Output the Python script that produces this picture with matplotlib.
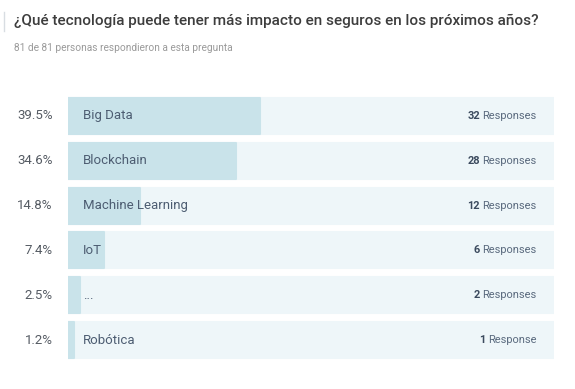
import matplotlib.pyplot as plt

# Datos de la encuesta
categorias = ["Big Data", "Blockchain", "Machine Learning", "IoT", "...", "Robótica"]
porcentajes = [39.5, 34.6, 14.8, 7.4, 2.5, 1.2]
respuestas = [32, 28, 12, 6, 2, 1]

titulo = "¿Qué tecnología puede tener más impacto en seguros en los próximos años?"
subtitulo = "81 de 81 personas respondieron a esta pregunta"

W, H = 575, 389
plt.rcParams['font.family'] = ['Roboto', 'DejaVu Sans']

fig = plt.figure(figsize=(W / 100, H / 100), dpi=100)
fig.patch.set_facecolor("white")

# Zona de las barras (en pixeles de la figura)
izq, der = 68, 554
arriba, abajo = 93.5, 362.5
ax = fig.add_axes([izq / W, 1 - abajo / H, (der - izq) / W, (abajo - arriba) / H])

y = range(len(categorias))
ax.barh(y, [100] * len(categorias), height=0.8, color="#eef6f9",
        edgecolor="#eef6f9", linewidth=1.5, joinstyle="round")
ax.barh(y, porcentajes, height=0.8, color="#c9e3ea",
        edgecolor="#c9e3ea", linewidth=1.5, joinstyle="round")

ax.set_xlim(0, 100)
ax.set_ylim(len(categorias) - 0.5, -0.5)
ax.axis("off")

# Porcentajes a la izquierda, nombres dentro de la barra
for i, (cat, pct) in enumerate(zip(categorias, porcentajes)):
    ax.text(-3.1, i, f"{pct:.1f}%", ha="right", va="center",
            fontsize=9.5, color="#555b63")
    ax.text(3.1, i, cat, ha="left", va="center", fontsize=9.5, color="#4d5d72")

# "N Responses" a la derecha, con el numero en negrita
fig.canvas.draw()
renderer = fig.canvas.get_renderer()
for i, n in enumerate(respuestas):
    palabra = "Response" if n == 1 else "Responses"
    t = ax.text(96.4, i, palabra, ha="right", va="center", fontsize=7.9,
                color="#5a6a7e")
    bb = t.get_window_extent(renderer)
    x_data = ax.transData.inverted().transform((bb.x0 - 2.5, 0))[0]
    ax.text(x_data, i, str(n), ha="right", va="center", fontsize=7.9,
            color="#3b4a5e", fontweight="bold")

# Titulo y subtitulo
fig.text(14 / W, 1 - 21 / H, titulo, ha="left", va="center",
         fontsize=11.0, color="#3d3d3d", fontweight="medium")
fig.text(14 / W, 1 - 48 / H, subtitulo, ha="left", va="center",
         fontsize=7.3, color="#9a9a9a")
fig.add_artist(plt.Line2D([4 / W, 4 / W], [1 - 12 / H, 1 - 31 / H],
                          color="#d8dde2", linewidth=1))

fig.savefig("out.png", dpi=100)
